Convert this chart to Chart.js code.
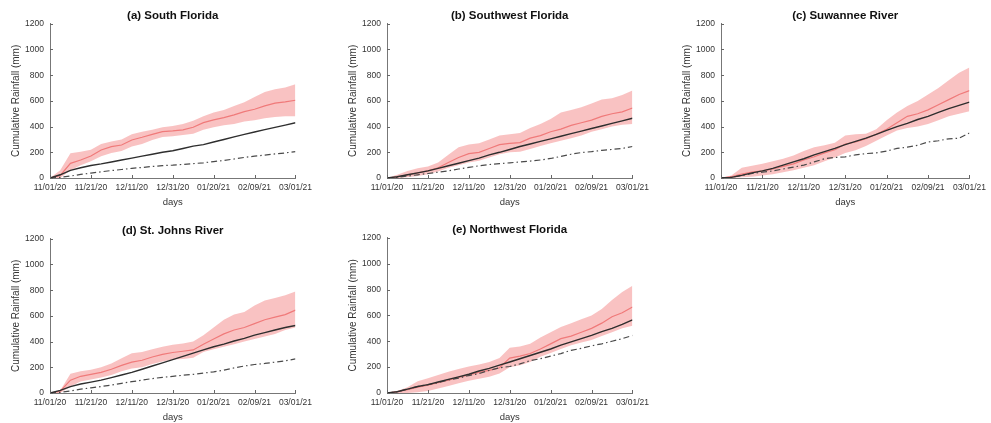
<!DOCTYPE html>
<html>
<head>
<meta charset="utf-8">
<script src="https://cdn.jsdelivr.net/npm/chart.js@4.4.1/dist/chart.umd.min.js"></script>
<style>
  html, body { margin: 0; padding: 0; background: #fff; width: 991px; height: 423px; overflow: hidden; }
  canvas { position: absolute; }
</style>
</head>
<body>
<canvas id="c-a"></canvas>
<canvas id="c-b"></canvas>
<canvas id="c-c"></canvas>
<canvas id="c-d"></canvas>
<canvas id="c-e"></canvas>
<script>
// ---------- Data (every 5 days from 11/01/20) ----------
const days = [0, 5, 10, 15, 20, 25, 30, 35, 40, 45, 50, 55, 60, 65, 70, 75, 80, 85, 90, 95, 100, 105, 110, 115, 120];
const dateTicks = ["11/01/20", "11/21/20", "12/11/20", "12/31/20", "01/20/21", "02/09/21", "03/01/21"];
const yTicks = [0, 200, 400, 600, 800, 1000, 1200];

// (a) South Florida
const sfMean  = [0, 20, 114, 140, 171, 218, 244, 257, 296, 317, 340, 361, 366, 374, 395, 431, 452, 470, 491, 517, 535, 561, 582, 592, 605];
const sfUpper = [0, 60, 192, 205, 220, 265, 285, 300, 340, 360, 375, 395, 405, 420, 445, 480, 510, 530, 560, 590, 630, 670, 690, 705, 730];
const sfLower = [0, 0, 60, 100, 130, 170, 195, 210, 245, 265, 295, 320, 325, 335, 345, 375, 395, 410, 420, 440, 450, 465, 475, 480, 480];
const sfSolid = [0, 25, 60, 80, 97, 110, 125, 140, 155, 170, 185, 200, 212, 230, 248, 260, 280, 300, 320, 340, 358, 376, 394, 412, 430];
const sfDash  = [0, 5, 15, 28, 38, 48, 58, 66, 75, 82, 90, 96, 100, 106, 112, 118, 128, 136, 148, 160, 170, 178, 187, 195, 205];

// (b) Southwest Florida
const swMean  = [0, 8, 25, 40, 55, 80, 120, 160, 190, 200, 230, 260, 270, 275, 310, 330, 360, 380, 410, 430, 450, 480, 500, 515, 545];
const swUpper = [0, 25, 55, 75, 90, 120, 180, 240, 260, 270, 300, 330, 340, 350, 390, 420, 460, 510, 530, 550, 580, 610, 620, 645, 680];
const swLower = [0, 0, 5, 15, 30, 50, 80, 100, 120, 135, 160, 185, 200, 205, 225, 250, 270, 290, 310, 330, 360, 380, 400, 415, 420];
const swSolid = [0, 10, 25, 40, 55, 75, 95, 115, 135, 155, 180, 200, 222, 245, 265, 285, 305, 325, 345, 365, 385, 405, 425, 445, 465];
const swDash  = [0, 5, 15, 25, 35, 45, 55, 70, 82, 95, 105, 112, 118, 125, 132, 140, 152, 168, 185, 198, 205, 215, 222, 230, 245];

// (c) Suwannee River
const srMean  = [0, 10, 30, 45, 55, 70, 90, 110, 140, 165, 195, 220, 265, 280, 305, 340, 380, 430, 480, 500, 530, 570, 610, 650, 680];
const srUpper = [0, 20, 80, 95, 110, 130, 150, 175, 210, 240, 255, 275, 330, 340, 345, 380, 450, 510, 560, 600, 650, 700, 760, 820, 860];
const srLower = [0, 0, 5, 10, 20, 30, 45, 60, 80, 100, 130, 160, 195, 215, 250, 290, 330, 370, 390, 400, 420, 450, 480, 500, 520];
const srSolid = [0, 5, 20, 40, 55, 75, 100, 125, 150, 180, 205, 230, 260, 285, 310, 340, 370, 400, 425, 455, 480, 510, 540, 565, 590];
const srDash  = [0, 5, 20, 35, 45, 55, 70, 85, 100, 125, 150, 160, 165, 180, 190, 195, 210, 230, 240, 255, 280, 290, 305, 310, 350];

// (d) St. Johns River
const sjMean  = [0, 15, 100, 130, 145, 160, 185, 215, 240, 255, 280, 300, 315, 325, 335, 380, 420, 460, 490, 510, 540, 570, 590, 610, 645];
const sjUpper = [0, 20, 150, 170, 180, 200, 230, 270, 310, 320, 340, 360, 375, 385, 400, 450, 510, 570, 610, 630, 680, 720, 740, 760, 790];
const sjLower = [0, 0, 50, 90, 105, 120, 140, 170, 190, 200, 225, 245, 260, 265, 275, 320, 340, 360, 380, 400, 420, 440, 460, 490, 510];
const sjSolid = [0, 20, 50, 70, 85, 100, 120, 140, 160, 185, 210, 235, 260, 285, 310, 335, 360, 380, 405, 425, 450, 470, 490, 510, 525];
const sjDash  = [0, 5, 15, 30, 40, 50, 62, 75, 88, 100, 112, 122, 130, 138, 145, 155, 165, 178, 195, 210, 222, 230, 240, 250, 265];

// (e) Northwest Florida
const nwMean  = [0, 10, 25, 45, 60, 80, 100, 120, 140, 160, 175, 195, 270, 285, 305, 340, 380, 420, 440, 470, 500, 540, 590, 620, 665];
const nwUpper = [0, 15, 45, 90, 115, 140, 165, 185, 205, 220, 240, 270, 350, 360, 380, 430, 470, 510, 540, 570, 600, 650, 720, 780, 830];
const nwLower = [0, 0, 0, 5, 15, 35, 55, 75, 95, 110, 125, 150, 200, 215, 240, 280, 310, 340, 370, 390, 410, 440, 470, 500, 520];
const nwSolid = [0, 10, 30, 50, 65, 85, 105, 125, 145, 170, 190, 215, 240, 265, 290, 315, 340, 370, 395, 420, 445, 475, 500, 530, 565];
const nwDash  = [0, 10, 30, 50, 65, 80, 100, 115, 135, 150, 175, 195, 205, 225, 250, 265, 285, 305, 330, 345, 365, 380, 400, 420, 445];

// ---------- Layout: chart area of each panel in page pixels ----------
const FONT = "'Liberation Sans', Arial, Helvetica, sans-serif";
const panels = [
  { id: "c-a", title: "(a) South Florida",     left: 50,  top: 24,  width: 248, height: 154, s: [sfMean, sfUpper, sfLower, sfSolid, sfDash] },
  { id: "c-b", title: "(b) Southwest Florida", left: 387, top: 24,  width: 248, height: 154, s: [swMean, swUpper, swLower, swSolid, swDash] },
  { id: "c-c", title: "(c) Suwannee River",    left: 721, top: 24,  width: 251, height: 154, s: [srMean, srUpper, srLower, srSolid, srDash] },
  { id: "c-d", title: "(d) St. Johns River",   left: 50,  top: 239, width: 248, height: 154, s: [sjMean, sjUpper, sjLower, sjSolid, sjDash] },
  { id: "c-e", title: "(e) Northwest Florida", left: 387, top: 238, width: 248, height: 155, s: [nwMean, nwUpper, nwLower, nwSolid, nwDash] }
];

const Y_AXIS_W = 50;
const X_AXIS_H = 32;
const TITLE_H = 24;
const RIGHT_PAD = 19;

// MATLAB-style tick marks pointing into the axes
const inwardTicks = {
  id: "inwardTicks",
  afterDatasetsDraw(chart) {
    const { ctx, chartArea, scales: { x, y } } = chart;
    ctx.save();
    ctx.strokeStyle = "#666";
    ctx.lineWidth = 1;
    ctx.beginPath();
    x.ticks.forEach((t) => {
      const px = Math.round(x.getPixelForValue(t.value)) + 0.5;
      ctx.moveTo(px, chartArea.bottom);
      ctx.lineTo(px, chartArea.bottom - 3);
    });
    y.ticks.forEach((t) => {
      const py = Math.round(y.getPixelForValue(t.value)) + 0.5;
      ctx.moveTo(chartArea.left, py);
      ctx.lineTo(chartArea.left + 3, py);
    });
    ctx.stroke();
    ctx.restore();
  }
};

function points(vals) {
  return days.map((d, i) => ({ x: d, y: vals[i] }));
}

function buildDatasets(series) {
  const [mean, upper, lower, solid, dash] = series;
  return [
    { data: points(solid), borderColor: "#2e2e2e", borderWidth: 1.4, order: 0 },
    { data: points(dash), borderColor: "#4a4a4a", borderWidth: 1.2, borderDash: [6, 3, 1.5, 3], order: 1 },
    { data: points(mean), borderColor: "#f07a7a", borderWidth: 1.2, order: 2 },
    { data: points(upper), borderWidth: 0, backgroundColor: "rgba(240,110,110,0.42)", fill: "+1", order: 3 },
    { data: points(lower), borderWidth: 0, fill: false, order: 4 }
  ];
}

panels.forEach((p) => {
  const canvas = document.getElementById(p.id);
  const w = Y_AXIS_W + p.width + RIGHT_PAD;
  const h = TITLE_H + p.height + X_AXIS_H;
  canvas.width = w;
  canvas.height = h;
  canvas.style.left = (p.left - Y_AXIS_W) + "px";
  canvas.style.top = (p.top - TITLE_H) + "px";

  new Chart(canvas, {
    type: "line",
    data: { datasets: buildDatasets(p.s) },
    options: {
      responsive: false,
      animation: false,
      elements: { point: { radius: 0 }, line: { tension: 0 } },
      layout: { padding: { left: 0, right: RIGHT_PAD, top: 0, bottom: 0 } },
      plugins: {
        legend: { display: false },
        tooltip: { enabled: false },
        title: {
          display: true,
          text: p.title,
          fullSize: false,
          color: "#111",
          font: { family: FONT, size: 11.5, weight: "bold" },
          padding: { top: 9, bottom: 1 }
        }
      },
      scales: {
        x: {
          type: "linear",
          min: 0,
          max: 120,
          afterFit: (scale) => { scale.height = X_AXIS_H; },
          afterBuildTicks: (scale) => { scale.ticks = dateTicks.map((_, i) => ({ value: i * 20 })); },
          grid: { display: false, drawTicks: false },
          border: { display: true, color: "#777", width: 1 },
          ticks: {
            autoSkip: false,
            maxRotation: 0,
            padding: 5,
            color: "#333",
            font: { family: FONT, size: 8.5 },
            callback: (v) => dateTicks[Math.round(v / 20)]
          },
          title: {
            display: true,
            text: "days",
            color: "#333",
            font: { family: FONT, size: 9.5 },
            padding: { top: 2, bottom: 2 }
          }
        },
        y: {
          min: 0,
          max: 1200,
          afterFit: (scale) => { scale.width = Y_AXIS_W; },
          afterBuildTicks: (scale) => { scale.ticks = yTicks.map((v) => ({ value: v })); },
          grid: { display: false, drawTicks: false },
          border: { display: true, color: "#777", width: 1 },
          ticks: {
            padding: 6,
            color: "#333",
            font: { family: FONT, size: 8.5 },
            callback: (v) => String(v)
          },
          title: {
            display: true,
            text: "Cumulative Rainfall (mm)",
            color: "#333",
            font: { family: FONT, size: 10 },
            padding: { top: 10, bottom: 2 }
          }
        }
      }
    },
    plugins: [inwardTicks]
  });
});
</script>
</body>
</html>
